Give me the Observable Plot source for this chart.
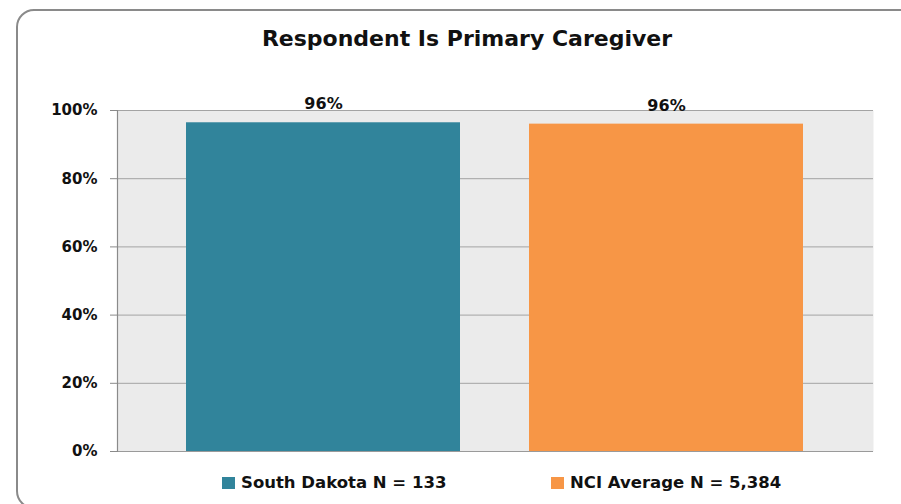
<!DOCTYPE html>
<html>
<head>
<meta charset="utf-8">
<script src="https://cdn.jsdelivr.net/npm/d3@7"></script>
<script src="https://cdn.jsdelivr.net/npm/@observablehq/plot@0.6"></script>
<style>
  html, body { margin: 0; padding: 0; background: #fff; }
  #wrap { position: relative; width: 901px; height: 504px; overflow: hidden; background: #fff; font-family: "DejaVu Sans", sans-serif; }
  #box { position: absolute; left: 16px; top: 9px; width: 920px; height: 500px; border: 2px solid #8a8a8a; border-radius: 18px; box-sizing: border-box; }
  #title { position: absolute; left: 0; top: 27px; width: 934px; text-align: center; font-size: 22px; line-height: 24px; font-weight: bold; color: #111; }
  #chart { position: absolute; left: 0; top: 0; }
  .sw { position: absolute; width: 13px; height: 12px; }
  .lt { position: absolute; font-size: 16.5px; line-height: 20px; font-weight: bold; color: #111; white-space: nowrap; }
</style>
</head>
<body>
<div id="wrap">
  <div id="box"></div>
  <div id="chart"></div>
  <div id="title"></div>
  <div id="legend"></div>
</div>
<script>
const titleText = "Respondent Is Primary Caregiver";
const series = ["South Dakota N = 133", "NCI Average N = 5,384"];
const values = [0.964, 0.960];
const colors = ["#31849b", "#f79646"];
const yTicks = [0, 0.2, 0.4, 0.6, 0.8, 1.0];

const data = series.map((s, i) => ({series: s, value: values[i]}));

document.getElementById("title").textContent = titleText;

const plot = Plot.plot({
  width: 901,
  height: 504,
  marginLeft: 117,
  marginRight: 28,
  marginTop: 110,
  marginBottom: 53,
  style: {fontFamily: "DejaVu Sans, sans-serif", background: "transparent", color: "#111"},
  x: {domain: series, paddingInner: 0.2, paddingOuter: 0.2, axis: null},
  y: {domain: [0, 1]},
  color: {domain: series, range: colors},
  marks: [
    Plot.frame({fill: "#ebebeb", stroke: null}),
    Plot.gridY(yTicks, {stroke: "#a3a3a3", strokeOpacity: 1, strokeWidth: 1}),
    Plot.axisY({ticks: yTicks, tickFormat: d3.format(".0%"), tickSize: 7, tickPadding: 13,
      stroke: "#8a8a8a", fill: "#111", fontSize: 15, fontWeight: "bold", label: null}),
    Plot.barY(data, {x: "series", y: "value", fill: "series"}),
    Plot.ruleY([0], {stroke: "#9a9a9a"}),
    Plot.frame({anchor: "left", stroke: "#8a8a8a", strokeWidth: 1.2}),
    Plot.text(data, {x: "series", y: "value", text: d => d3.format(".0%")(d.value),
      lineAnchor: "bottom", dy: -13.5, fontSize: 16, fontWeight: "bold", fill: "#111"})
  ]
});
document.getElementById("chart").appendChild(plot);

// legend
const legend = document.getElementById("legend");
const legendLeft = [222, 551];
series.forEach((s, i) => {
  const sw = document.createElement("div");
  sw.className = "sw";
  sw.style.left = legendLeft[i] + "px";
  sw.style.top = "477px";
  sw.style.background = colors[i];
  legend.appendChild(sw);
  const t = document.createElement("div");
  t.className = "lt";
  t.style.left = (legendLeft[i] + 19) + "px";
  t.style.top = "473px";
  t.textContent = s;
  legend.appendChild(t);
});
</script>
</body>
</html>
